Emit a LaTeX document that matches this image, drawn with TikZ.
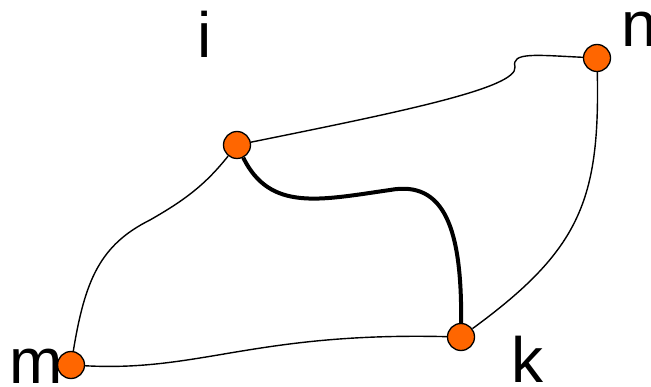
\documentclass[tikz,border=0pt]{standalone}
\usepackage{fontspec}
\setmainfont{Liberation Sans}
\definecolor{vorange}{HTML}{FF6600}
\begin{document}
\begin{tikzpicture}[x=1pt,y=-1pt,
  vertex/.style={circle,draw=black,line width=1.3pt,fill=vorange,minimum size=27pt,inner sep=0pt},
  lbl/.style={anchor=base,inner sep=0pt,font=\fontsize{64}{64}\selectfont},
  edge/.style={line width=1.4pt},
  heavy/.style={line width=4pt}]
\useasboundingbox (0,0) rectangle (651,387);
\node[vertex] (i) at (237,145) {};
\node[vertex] (n) at (597,58) {};
\node[vertex] (k) at (461,337) {};
\node[vertex] (m) at (71,365) {};
\node[lbl] (li) at (205,58) {i};
\node[lbl,anchor=base west] (ln) at (621,47) {n};
\node[lbl] (lk) at (527,383) {k};
\node[lbl] (lm) at (36,384) {m};
\coordinate (a1) at (150,220);
\coordinate (b1) at (390,190);
\coordinate (c1) at (515,67);
\begin{scope}[on background layer/.try]
\draw[edge] (i) .. controls (205,185) and (185,200) .. (a1)
  .. controls (100,245) and (85,280) .. (m);
\draw[heavy] (i) .. controls (270,212) and (320,200) .. (b1)
  .. controls (445,180) and (462,230) .. (k);
\draw[edge] (m) .. controls (200,372) and (255,332) .. (k);
\draw[edge] (n) .. controls (600,200) and (580,250) .. (k);
\draw[edge] (i) .. controls (400,112) and (518,88) .. (c1)
  .. controls (511,52) and (535,55) .. (n);
\end{scope}
\end{tikzpicture}
\end{document}
